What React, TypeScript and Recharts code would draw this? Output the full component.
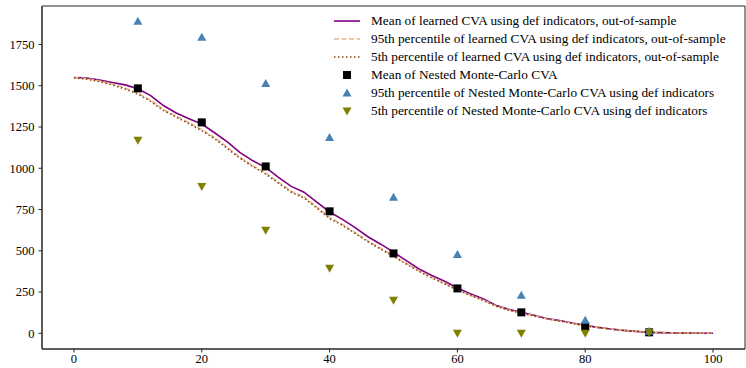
import React from 'react';
import { ComposedChart, Line, Scatter, XAxis, YAxis, ReferenceArea } from 'recharts';

// time grid for the learned CVA curves
const tGrid = [0, 2, 4, 6, 8, 10, 12, 14, 16, 18, 20, 22, 24, 26, 28, 30, 32, 34, 36, 38, 40, 42, 44, 46, 48, 50,
  52, 54, 56, 58, 60, 62, 64, 66, 68, 70, 72, 74, 76, 78, 80, 82, 84, 86, 88, 90, 92, 94, 96, 98, 100];
const learnedMean = [1550, 1547, 1535, 1520, 1505, 1482, 1440, 1380, 1335, 1300, 1268, 1215, 1160, 1095, 1045, 1005,
  945, 890, 855, 795, 735, 690, 640, 585, 540, 492, 440, 390, 350, 315, 275, 240, 210, 170, 145, 128, 110, 90, 78, 62,
  48, 36, 26, 18, 12, 6, 4, 2, 1, 0, 0];
const learnedP95 = [1550, 1543, 1529, 1510, 1486, 1456, 1411, 1356, 1316, 1276, 1234, 1186, 1126, 1066, 1016, 971,
  916, 861, 826, 766, 701, 660, 610, 560, 515, 470, 424, 379, 338, 303, 264, 232, 202, 167, 142, 124, 107, 89, 75, 61,
  47, 36, 26, 18, 12, 6, 4, 2, 1, 0, 0];
const learnedP5 = [1548, 1540, 1525, 1505, 1480, 1450, 1405, 1350, 1310, 1270, 1228, 1180, 1120, 1060, 1010, 965,
  910, 855, 820, 760, 695, 655, 605, 555, 510, 465, 420, 375, 335, 300, 262, 230, 200, 165, 140, 122, 105, 88, 74, 60,
  46, 35, 25, 17, 11, 6, 3, 2, 1, 0, 0];

// nested Monte-Carlo reference points
const nmcT = [10, 20, 30, 40, 50, 60, 70, 80, 90];
const nmcMean = [1484, 1278, 1011, 739, 484, 272, 127, 42, 6];
const nmcP95 = [1890, 1793, 1514, 1187, 824, 478, 230, 79, 12];
const nmcP5 = [1169, 890, 624, 394, 200, 0, 0, 0, 5];

const xTicks = [0, 20, 40, 60, 80, 100];
const yTicks = [0, 250, 500, 750, 1000, 1250, 1500, 1750];

const lineData = tGrid.map((t, i) => ({ t, mean: learnedMean[i], p95: learnedP95[i], p5: learnedP5[i] }));
const toPts = (vals: number[]) => nmcT.map((t, i) => ({ t, v: vals[i] }));

const FONT = '"Liberation Serif", "DejaVu Serif", serif';
const AXIS = '#262626';

const SquareMark = ({ cx, cy }: any) => <rect x={cx - 4} y={cy - 4} width={8} height={8} fill="#000" />;
const UpMark = ({ cx, cy }: any) => (
  <polygon points={`${cx},${cy - 4.5} ${cx + 4.5},${cy + 3.5} ${cx - 4.5},${cy + 3.5}`} fill="#4682b4" />
);
const DownMark = ({ cx, cy }: any) => (
  <polygon points={`${cx},${cy + 4.5} ${cx + 4.5},${cy - 3.5} ${cx - 4.5},${cy - 3.5}`} fill="#808000" />
);

const legendRows = [
  { label: 'Mean of learned CVA using def indicators, out-of-sample', kind: 'line', color: '#800080', dash: undefined },
  { label: '95th percentile of learned CVA using def indicators, out-of-sample', kind: 'line', color: '#e8b890', dash: '5 2.5' },
  { label: '5th percentile of learned CVA using def indicators, out-of-sample', kind: 'line', color: '#8b4513', dash: '1.5 2.5' },
  { label: 'Mean of Nested Monte-Carlo CVA', kind: 'square', color: '#000' },
  { label: '95th percentile of Nested Monte-Carlo CVA using def indicators', kind: 'up', color: '#4682b4' },
  { label: '5th percentile of Nested Monte-Carlo CVA using def indicators', kind: 'down', color: '#808000' },
];

const LegendBox = () => (
  <div style={{ position: 'absolute', top: 12, left: 334, fontFamily: FONT, fontSize: 13.3, color: '#000', lineHeight: 1 }}>
    {legendRows.map((r) => (
      <div key={r.label} style={{ display: 'flex', alignItems: 'center', height: 18, whiteSpace: 'nowrap' }}>
        <svg width={37} height={12} style={{ flex: 'none' }}>
          {r.kind === 'line' && (
            <line x1={0} y1={6} x2={26} y2={6} stroke={r.color} strokeWidth={1.6} strokeDasharray={r.dash} />
          )}
          {r.kind === 'square' && <SquareMark cx={13} cy={6} />}
          {r.kind === 'up' && <UpMark cx={13} cy={6} />}
          {r.kind === 'down' && <DownMark cx={13} cy={6} />}
        </svg>
        <span>{r.label}</span>
      </div>
    ))}
  </div>
);

const tickStyle = { fill: '#000', fontSize: 12.5, fontFamily: FONT };

export default function App() {
  return (
    <div style={{ position: 'absolute', left: 0, top: 0, width: 746, height: 368, background: '#fff' }}>
      <ComposedChart width={746} height={368} data={lineData} margin={{ top: 6, right: 1, bottom: 0, left: 0 }}>
        <XAxis
          dataKey="t"
          type="number"
          domain={[-5, 105]}
          ticks={xTicks}
          height={19}
          tickSize={3.5}
          tickMargin={2}
          stroke={AXIS}
          tick={tickStyle}
          allowDataOverflow
        />
        <YAxis
          type="number"
          domain={[-95, 1983]}
          ticks={yTicks}
          width={42}
          tickSize={3.5}
          tickMargin={4}
          stroke={AXIS}
          tick={tickStyle}
          allowDataOverflow
        />
        <ReferenceArea x1={-5} x2={105} y1={-95} y2={1983} fill="none" stroke={AXIS} strokeWidth={1} ifOverflow="visible" />
        <Line dataKey="mean" stroke="#800080" strokeWidth={1.6} dot={false} isAnimationActive={false} />
        <Line dataKey="p95" stroke="#e8b890" strokeWidth={1.6} strokeDasharray="5 2.5" dot={false} isAnimationActive={false} />
        <Line dataKey="p5" stroke="#8b4513" strokeWidth={1.6} strokeDasharray="1.5 2.5" dot={false} isAnimationActive={false} />
        <Scatter data={toPts(nmcMean)} dataKey="v" shape={<SquareMark />} isAnimationActive={false} />
        <Scatter data={toPts(nmcP95)} dataKey="v" shape={<UpMark />} isAnimationActive={false} />
        <Scatter data={toPts(nmcP5)} dataKey="v" shape={<DownMark />} isAnimationActive={false} />
      </ComposedChart>
      <LegendBox />
    </div>
  );
}
